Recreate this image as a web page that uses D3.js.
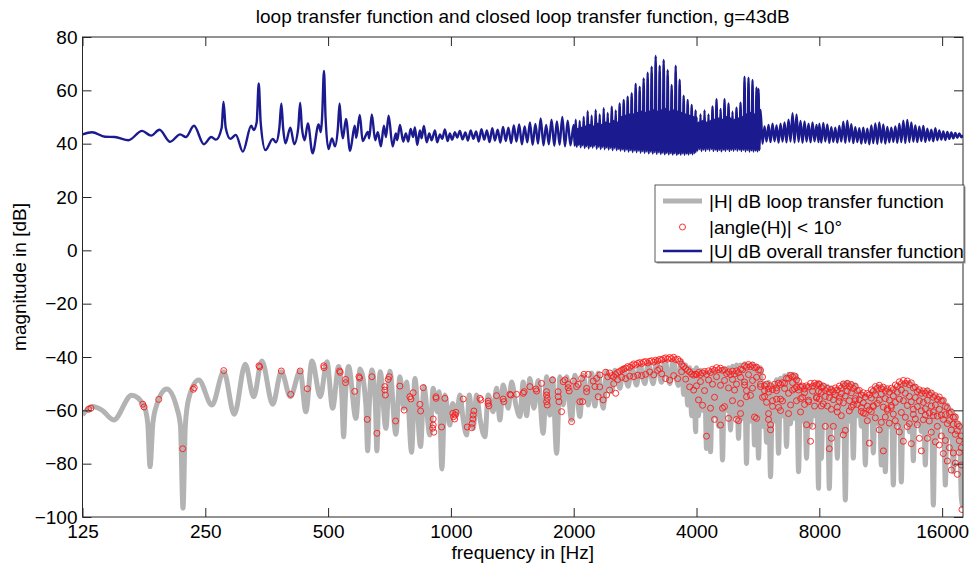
<!DOCTYPE html>
<html>
<head>
<meta charset="utf-8">
<script src="https://cdn.jsdelivr.net/npm/d3@7"></script>
<style>
  body { margin: 0; background: #fff; }
  text { font-family: "Liberation Sans", Arial, Helvetica, sans-serif; }
</style>
</head>
<body>
<div id="chart"></div>
<script>

// tick positions
var xTicks = [125, 250, 500, 1000, 2000, 4000, 8000, 16000];
var yTicks = [-100, -80, -60, -40, -20, 0, 20, 40, 60, 80];

// |U| dB, overall (closed loop) transfer function  [Hz, dB]
var closedLoopLow = [
  [125,43.5],[131.9,44.3],[142,42.6],[150,42.5],[162,41.3],[175,44.8],[184,43],[193,45.2],[205,40.7],[217,43.5],
  [224,42.5],[234.5,46.7],[248,39.8],[258.6,42.5],[265.5,41.5],[274.2,46],[277,55.7],[280.5,46],[288,41.8],[297,43.3],
  [309,37],[324,46.7],[328.5,45.1],[334.1,48],[338,62.6],[341.7,48],[351,37.6],[366,41.8],[372.5,40.5],[379.8,46],
  [384,55.1],[387.8,46],[393,40.1],[404,46],[413,39.8],[422.5,46],[427,55.4],[431.2,46],[438,41.3],[446,47.6],
  [458,36.4],[474,47.2],[480,44.3],[483.4,50],[488.5,67.3],[492.8,50],[501,38],[511,42],[520,39],[528.5,46],
  [533.5,55.1],[538.6,46],[543.5,42],[553,49.3],[566,37.3],[581,46.7],[586,42.2],[598,50.8],[607.5,41],[626,44.4],
  [630.5,42],[640,51],[652,41.3],[662,44.3],[673.5,39],[685,46.7],[693,42.5],[703.5,50.5],[719.5,39],[733,43.8],
  [738.5,41.3],[750,47],[764,40.8],[775.5,43.8],[786,40.8],[796.5,45.5],[808,42.5],[816,46.1],[827,39.5],[839.5,45],
  [847.5,42],[858.5,46.6],[872,40.5],[885,43.8],[897,41.3],[914,45],[925.5,40.5],[940,43.5],[952,41.8],[966.5,45.3],
  [981.5,41],[994,43.8],[1007,41.5],[1023,44.3],[1036,42.3]
];
var closedLoopComb = [
  [1052,44.8],[1068,41.6],[1085,44.2],[1101,41.2],[1118,45.0],[1135,41.8],[1153,44.6],[1170,40.8],[1188,45.4],[1207,41.5],
  [1225,45.0],[1244,40.6],[1263,45.8],[1282,41.2],[1302,45.2],[1322,40.4],[1342,46.3],[1363,41.0],[1383,46.0],[1405,40.2],
  [1426,46.8],[1448,40.8],[1470,47.2],[1493,39.8],[1516,46.5],[1539,40.5],[1562,48.0],[1586,39.6],[1611,47.4],[1635,40.0],
  [1660,49.5],[1686,39.4],[1712,47.0],[1738,39.8],[1765,49.0],[1792,39.2],[1819,48.3],[1847,39.6],[1875,50.0],[1904,39.0],
  [1933,48.6],[1963,39.4]
];
var closedLoop2k = [
  [2000,47],[2011,39.2],[2023,49],[2034,38.8],[2046,45.5],[2057,39.6],[2069,48.5],[2080,38.6],[2092,46],[2104,39.4],
  [2116,50],[2128,38.4],[2140,46.5],[2152,39.1],[2164,52.2],[2176,38.2],[2189,47],[2201,39.0],[2213,50.5],[2226,38.5],
  [2239,46.5],[2251,39.2],[2264,52.6],[2277,38.1],[2290,47.5],[2303,38.8],[2316,51],[2329,38.0],[2342,47],[2355,38.7],
  [2369,53.3],[2382,37.9],[2395,48],[2409,38.6],[2423,51.5],[2436,37.8],[2450,47.5],[2464,38.4],[2478,53.9],[2492,37.6],
  [2506,48.5],[2520,38.3],[2535,52.5],[2549,37.5],[2563,48],[2577,38.1],[2592,55.1],[2607,37.4],[2622,50],[2637,37.9],
  [2652,56.4],[2667,37.2],[2682,50.5],[2697,37.8],[2712,57.6],[2727,37.0],[2743,51],[2758,37.6],[2774,58.9],[2790,36.9],
  [2806,51],[2821,37.5],[2837,62.5],[2853,36.8],[2870,51.5],[2886,37.4],[2902,61.4],[2918,36.6],[2935,52],[2951,37.2],
  [2968,64.5],[2985,36.5],[3002,51.5],[3019,37.1],[3036,66.6],[3053,36.4],[3071,52],[3088,37.0],[3105,68.9],[3123,36.3],
  [3141,52.5],[3158,36.9],[3176,72.9],[3194,36.2],[3212,52],[3230,36.8],[3249,69.2],[3267,36.1],[3286,52.5],[3304,36.7],
  [3323,71.4],[3342,36.0],[3361,53],[3380,36.6],[3399,67.6],[3418,36.0],[3437,52],[3456,36.5],[3476,62],[3496,35.9],
  [3516,52.5],[3536,36.4],[3556,69.2],[3576,35.8],[3596,52],[3616,36.3],[3637,64],[3657,35.9],[3678,51.5],[3699,36.4],
  [3720,58],[3741,35.8],[3762,51],[3783,36.3],[3805,56.4],[3826,35.9],[3848,50.5],[3870,36.4],[3892,54.5],[3914,36.0],
  [3936,50],[3958,36.5],[3981,52.5],[3990,37.0]
];
var closedLoop4k = [
  [4000,50],[4023,37.4],[4045,48],[4068,37.9],[4091,51],[4114,37.2],[4138,48.5],[4161,37.8],[4185,52.5],[4208,37.3],
  [4232,48],[4256,37.9],[4280,51],[4304,37.4],[4329,48.5],[4353,38.0],[4378,54],[4403,37.3],[4428,49],[4453,37.8],
  [4478,56.7],[4503,37.2],[4529,49.5],[4554,37.7],[4580,53],[4606,37.1],[4632,49],[4658,37.8],[4685,56.7],[4711,37.3],
  [4738,50],[4765,37.9],[4792,55.1],[4819,37.2],[4846,49.5],[4873,37.7],[4901,52],[4929,37.3],[4957,49],[4985,37.9],
  [5013,53.5],[5041,37.4],[5070,49.5],[5099,37.8],[5128,55.4],[5157,37.2],[5186,50],[5215,37.7],[5245,65.1],[5274,37.1],
  [5304,51],[5334,37.6],[5364,64.7],[5394,37.0],[5425,51.5],[5456,37.5],[5487,63.9],[5518,37.0],[5549,51],[5580,37.4],
  [5612,61.1],[5644,37.1],[5676,60.5],[5708,37.6],[5741,52.6],[5806,40.0],[5872,46.5],[5939,40.8],[6006,47],[6074,40.6],
  [6143,47.5],[6213,40.9],[6283,46.8],[6355,40.4],[6427,47.5],[6500,40.8],[6574,48],[6648,40.5],[6724,49],[6800,40.8],
  [6877,51.4],[6955,40.4],[7034,51],[7114,40.7],[7195,48.5],[7276,40.3],[7359,48.3],[7443,40.8],[7527,47.5],[7613,40.5],
  [7699,48],[7787,40.9],[7875,47],[7965,40.6]
];
var closedLoop8k = [
  [8000,47.5],[8091,40.4],[8182,47.8],[8275,40.8],[8369,47.2],[8464,40.3],[8560,46.2],[8657,40.7],[8756,46],[8855,40.4],
  [8956,46.6],[9057,40.8],[9160,48.2],[9264,40.3],[9370,48.6],[9476,40.7],[9584,47.3],[9692,40.2],[9802,46.2],[9914,40.6],
  [10026,45.8],[10140,40.0],[10255,46],[10372,40.3],[10489,45.6],[10608,39.8],[10729,46.8],[10851,40.2],[10974,47.6],[11098,39.9],
  [11224,48],[11352,40.4],[11481,47.2],[11611,40.0],[11743,46.3],[11876,40.5],[12011,46],[12147,40.7],[12285,46.5],[12425,40.3],
  [12566,47.5],[12709,40.6],[12853,48.6],[12999,40.2],[13147,48.9],[13296,40.6],[13447,48],[13600,40.8],[13754,46.8],[13910,40.6],
  [14068,46.4],[14228,41.0],[14389,46.6],[14553,40.7],[14718,45.6],[14885,41.2],[15054,45.2],[15225,40.9],[15398,45.8],[15573,41.3],
  [15749,45],[15928,41.5],[16109,44.6],[16292,41.4],[16477,44.4],[16664,41.8],[16853,44.2],[17045,42],[17238,44],[17434,42.2],
  [17632,43.8],[17832,42.4],[18000,43.2]
];

// |H| dB, loop transfer function  [Hz, dB]
var loopGainLow = [
  [125,-61.7],[132,-58.6],[139.5,-59.9],[149,-63.6],[165,-54.3],[176.5,-58],[180.7,-65],[183,-81.1],[185.9,-65],[190,-58],
  [201,-52],[213,-59.2],[217.3,-66],[220.4,-96.7],[223.3,-66],[227.7,-55.5],[240.8,-48.6],[259.6,-58],[277.4,-45.5],[294.4,-61.5],
  [313.3,-42.7],[328.5,-54.9],[344,-41.5],[365.7,-57.7],[384,-45.5],[404,-54.9],[427,-45.3],[441,-60.5],[456.5,-41.5],[478.4,-54.9],
  [496.8,-41.8],[512.9,-59.2],[530.5,-43.6],[540.5,-55],[545.7,-69.9],[551.3,-55],[561.3,-43.6],[585,-63],[599,-44.5],[618.9,-58],
  [625,-75.2],[630.8,-58],[640,-44.9],[653,-58],[658.5,-75.2],[664,-58],[671,-45.5]
];
var loopGainMid = [
  [692.8,-66.75],[708.6,-45.3],[733,-69],[749.8,-47.4],[766.9,-59.2],[778.6,-49.4],[801,-75.75],[816,-48.1],[842.7,-73.6],[858.6,-51.1],
  [888,-69.25],[904.8,-51.75],[925.5,-60.5],[935.9,-53],[950.3,-82],[966.5,-54.25],[994.2,-65.5],[1009.6,-57.4],[1032.7,-61.75],[1052,-54.25],
  [1072,-63.6],[1092.6,-69.25],[1108.8,-54.25],[1134,-66.75],[1156,-54.25],[1177.8,-63],[1211.5,-69.9],[1234,-54.25],[1269.6,-60.5],[1294,-51.75],
  [1318.5,-63.6],[1343,-50.5],[1381.7,-59.2],[1408.5,-49.4],[1443,-58],[1476,-62.3],[1503.8,-49.4],[1533,-62],[1561.7,-48.1],[1597,-59.2],
  [1636.5,-48.8],[1683,-68.6],[1716,-47.4],[1748,-61.75],[1775,-48.1],[1816,-76.1],[1850,-47.4],[1884.6,-58],[1921,-47.4],[1976,-63.6],
  [2013.6,-46.8],[2071,-62.3],[2110,-46.8],[2170.7,-58],[2212.6,-46],[2254,-58.4],[2296.6,-46],[2362,-59.2],[2408,-45.4],[2477,-53],
  [2523.6,-45],[2595.8,-51.75],[2644,-44.1],[2720,-51],[2772.8,-43.5],[2852,-50.5],[2906,-43],[2989,-50],[3045,-42.2],[3132,-50],
  [3193,-41.5],[3284,-49.5],[3346,-41.2],[3442,-50],[3507,-40.9],[3607,-50.7],[3677,-41.5],[3720,-54],[3762,-43],[3805,-58],
  [3848,-44],[3892,-62],[3936,-45],[3981,-68]
];
var loopGainHigh = [
  [4000,-44],[4045,-62],[4091,-45],[4138,-60],[4185,-45.5],[4232,-74.3],[4280,-46],[4329,-75.5],[4378,-45],[4428,-62],
  [4478,-45.5],[4529,-66],[4580,-45],[4632,-78.6],[4685,-44.5],[4738,-60],[4792,-44],[4846,-67.4],[4901,-43.5],[4957,-62],
  [5013,-43],[5070,-70.5],[5128,-43],[5186,-63],[5245,-42.5],[5304,-79.9],[5364,-43],[5425,-64],[5487,-42.8],[5549,-73],
  [5612,-43.5],[5676,-77.9],[5741,-44],[5806,-66],[5872,-50],[5939,-72],[6006,-49.5],[6074,-84.9],[6143,-51],[6213,-64],
  [6283,-48.5],[6355,-76.1],[6427,-48],[6500,-62],[6574,-47],[6648,-73.6],[6724,-46.5],[6800,-65],[6877,-46.5],[6955,-63],
  [7034,-47],[7114,-83],[7195,-50.5],[7276,-64],[7359,-51],[7443,-78],[7527,-51],[7613,-66],[7699,-50.5],[7787,-62],
  [7875,-50],[7965,-89.25],
  [8000,-50],[8091,-78],[8182,-50.5],[8275,-64],[8369,-51],[8464,-89.3],[8560,-51.5],[8657,-66],[8756,-52],[8855,-78],
  [8956,-52],[9057,-68],[9160,-50],[9264,-93.6],[9370,-49.5],[9476,-64],[9584,-50],[9692,-77.9],[9802,-50.5],[9914,-62],
  [10026,-53],[10140,-66],[10255,-54],[10372,-80.5],[10489,-54.5],[10608,-64],[10729,-53],[10851,-76],[10974,-51.5],[11098,-65],
  [11224,-51],[11352,-80.5],[11481,-51.5],[11611,-83],[11743,-52],[11876,-66],[12011,-52.5],[12147,-88],[12285,-51.5],[12425,-65],
  [12566,-50.5],[12709,-86.9],[12853,-50],[12999,-64],[13147,-49.5],[13296,-68],[13447,-50],[13600,-78.9],[13754,-51],[13910,-65],
  [14068,-52.5],[14228,-68],[14389,-53],[14553,-80.5],[14718,-52.5],[14885,-66],[15054,-53.5],[15225,-95.5],[15398,-54.5],[15573,-70],
  [15749,-55.5],[15928,-66],[16109,-56],[16292,-88],[16477,-58],[16664,-70],[16853,-60],[17045,-83],[17238,-62],[17434,-74],
  [17632,-65],[17832,-93],[18000,-96.5]
];

// frequencies where |angle(H)| < 10 deg  [Hz, |H| dB]
var phaseHitsLow = [
  [129.4,-59.6],[131.1,-59.2],[175.6,-57.7],[176.9,-58.75],[192.2,-55.9],[220,-74.4],[233.6,-52.1],[234.9,-51.5],[277.4,-45.1],[338.5,-43.3],
  [339.8,-43.75],[384,-45.25],[404.8,-54],[427,-45.25],[444.8,-51.9],[487.9,-43.3],[488.5,-44],[533.5,-45.25],[535.4,-45.75],[552,-48.4],
  [552,-49.6],[581,-52.9],[595,-47.4],[597.4,-47.9],[623.5,-63.4],[640,-47.4],[658.5,-68.6],[688.9,-51.1],[688.9,-52.4],[691,-54.25],
  [701.8,-48.4],[705.9,-47.4],[731.8,-64],[749.8,-50.9],[768,-59.9],[793.3,-54.9],[797.8,-55.75],[808.2,-53.4],[839.4,-57.75],[842.7,-60.25],
  [855,-51.5],[902,-66.7],[904.8,-63.25],[904.8,-65.5],[908,-68.2],[918.7,-54.9],[920,-55.5],[948.7,-66.25],[966.5,-55.5]
];
var phaseHitsMid = [
  [1011,-61.1],[1015.4,-62.4],[1021,-63.25],[1024.6,-61.75],[1028.6,-60.75],[1072,-55.75],[1096.4,-66.25],[1123.9,-66.5],[1127.7,-64.9],[1132,-63.25],
  [1134,-61.75],[1138.5,-60.25],[1177.8,-55.5],[1184.4,-56.1],[1234,-56.5],[1234,-57.4],[1239,-58.3],[1294,-54.5],[1343,-55.75],[1348,-56.75],
  [1395,-54],[1403,-54.25],[1448.7,-54],[1503.8,-53.6],[1512,-53],[1561.7,-51.1],[1615.5,-52],[1621.6,-52.75],[1668,-49.9],[1716,-53],
  [1716,-54.25],[1722,-55.5],[1716,-56.75],[1722,-58],[1775,-48.6],[1832,-53],[1832,-54.9],[1840,-56.75],[1868,-60.5],[1884.6,-49.25],
  [1903,-48.6],[1938.6,-50.25],[1938.6,-51.5],[1949.5,-52.75],[1976,-64.25],[1997,-49],[2033,-51.1],[2051,-50.25],[2071,-56.75],[2091,-48],
  [2103,-56.75],[2118.6,-46.5],[2151,-51.75],[2151,-53],[2170.7,-46.5],[2232.6,-49],[2254,-51.1],[2276,-48],[2296.6,-54.9],[2316,-51.2],
  [2318.7,-46.75],[2362,-56.1],[2408,-54.25],[2535,-53.6],[3249,-44.4],
  [2395,-45.7],[2423,-47.4],[2450,-46],[2478,-47],[2506,-47.4],[2535,-46.5],[2563,-45.8],[2592,-45.4],[2622,-44.9],[2652,-44.5],
  [2682,-44.2],[2712,-43.6],[2743,-43.9],[2774,-43.2],[2806,-42.6],[2837,-43],[2870,-42.4],[2902,-42.1],[2935,-42.5],[2968,-41.9],
  [3002,-41.7],[3036,-42.2],[3071,-41.6],[3105,-41.4],[3141,-41.9],[3176,-41.2],[3212,-41.5],[3249,-40.9],[3286,-41.1],[3323,-40.6],
  [3361,-40.3],[3399,-40.8],[3437,-40.2],[3476,-40.6],[3516,-40.1],[3556,-41],[3596,-40.8],[3637,-41.6],[3678,-42.8],[3720,-43.6],
  [3762,-44.4],[3805,-45],[3848,-45.6],[3892,-46.4],[3936,-46.8],[3981,-46.5],
  [2450,-52.4],[2506,-50],[2563,-48.5],[2622,-47.6],[2682,-48.1],[2743,-47.2],[2806,-47.4],[2870,-46.8],[2935,-47],[3002,-46.5],
  [3071,-45.6],[3141,-46.7],[3212,-45],[3286,-46.3],[3361,-48.1],[3437,-48.7],[3516,-47],[3596,-48.1],[3678,-45.5],[3762,-48.3],
  [3848,-51.2],[3936,-52.4]
];
var phaseHitsHigh = [
  [4000,-46.6],[4045,-45.8],[4091,-46.6],[4138,-46],[4185,-45.4],[4232,-46.5],[4280,-45.2],[4329,-45.8],[4378,-44.6],[4428,-45],
  [4478,-44],[4529,-44.8],[4580,-44.2],[4632,-45],[4685,-44.8],[4738,-46.2],[4792,-45.6],[4846,-46.6],[4901,-45.3],[4957,-46.4],
  [5013,-45.2],[5070,-45.9],[5128,-44.6],[5186,-44.8],[5245,-43.3],[5304,-43.8],[5364,-42.8],[5425,-43.6],[5487,-43],[5549,-44],
  [5612,-43.8],[5676,-44.9],[5741,-45],[5806,-47.5],[5872,-50.8],[5939,-50.2],[6006,-51.9],[6074,-50.8],[6143,-52.2],[6213,-50.2],
  [6283,-51.6],[6355,-49.8],[6427,-50.3],[6500,-49.6],[6574,-49.9],[6648,-48],[6724,-48],[6800,-46.9],[6877,-47.4],[6955,-47.1],
  [7034,-48.6],[7114,-49.1],[7195,-51.3],[7276,-50.9],[7359,-52],[7443,-50.8],[7527,-51.2],[7613,-49.9],[7699,-51],[7787,-49.8],
  [7875,-50.4],[7965,-50],
  [4000,-50.8],[4091,-49.2],[4185,-52.6],[4280,-48.6],[4378,-50.2],[4478,-47.4],[4580,-50.6],[4685,-48.8],[4792,-51.6],[4901,-48.4],
  [5013,-50.2],[5128,-47.6],[5245,-49.4],[5364,-46.6],[5487,-48.8],[5612,-47.6],[5741,-50.2],[5872,-54.8],[6006,-53.2],[6143,-56.4],
  [6283,-52.6],[6427,-55.8],[6574,-51.8],[6724,-53.6],[6877,-49.6],[7034,-51.4],[7195,-55.6],[7359,-53.4],[7527,-56.2],[7699,-52.8],
  [7875,-55.4],
  [4045,-56.1],[4138,-58.1],[4232,-69.7],[4329,-59.2],[4428,-63.4],[4428,-55.1],[4580,-65.5],[4632,-59.2],[4685,-58.6],[4792,-63],
  [4901,-56.4],[4957,-52.4],[5013,-63.4],[5070,-63.9],[5128,-61.2],[5128,-57.4],[5245,-50.5],[5304,-52.6],[5304,-54.9],[5425,-54.4],
  [5487,-51.7],[5549,-62.5],[5612,-63],[5741,-51.1],[5806,-55.1],[5872,-52.6],[5939,-57],[6006,-61.2],[6006,-63.4],[6074,-65.4],
  [6074,-67.3],[6143,-58.5],[6283,-55.8],[6355,-58.9],[6427,-60.1],[6500,-56.5],[6724,-61.2],[6800,-58],[6877,-52.4],[6955,-51.9],
  [7034,-56.4],[7114,-52.4],[7195,-60.6],[7276,-55.1],[7359,-57.8],[7443,-65.4],[7527,-56.8],[7613,-71.6],[7699,-66],[7787,-58.4],
  [7875,-55],[7965,-52.8],
  [8000,-50.2],[8091,-51.4],[8182,-50.9],[8275,-52.6],[8369,-51.8],[8464,-53.2],[8560,-52.2],[8657,-53],[8756,-51.6],[8855,-52.4],
  [8956,-50.9],[9057,-51.6],[9160,-50.1],[9264,-50.8],[9370,-49.9],[9476,-51.1],[9584,-50.3],[9692,-51.8],[9802,-51],[9914,-52.6],
  [10026,-52.5],[10140,-54.2],[10255,-53.4],[10372,-55],[10489,-53.7],[10608,-54.2],[10729,-52.3],[10851,-52.8],[10974,-51.1],[11098,-51.8],
  [11224,-50.6],[11352,-51.9],[11481,-51.3],[11611,-52.8],[11743,-51.9],[11876,-53.2],[12011,-51.7],[12147,-52.2],[12285,-50.5],[12425,-51],
  [12566,-49.3],[12709,-50],[12853,-48.8],[12999,-49.9],[13147,-49],[13296,-50.4],[13447,-49.7],[13600,-51.6],[13754,-51.3],[13910,-53],
  [14068,-52.3],[14228,-53.6],[14389,-52.7],[14553,-53.6],[14718,-52.7],[14885,-54.2],[15054,-53.5],[15225,-55.1],[15398,-54.5],[15573,-55.8],
  [15749,-55],[15928,-56.4],[16109,-56.3],[16292,-58.6],[16477,-59],[16664,-61.1],[16853,-60.7],[17045,-62.6],[17238,-62.5],[17434,-65.1],
  [17632,-66],[17832,-69.6],
  [8000,-55.8],[8091,-53.2],[8182,-57.6],[8275,-54.8],[8369,-58.4],[8464,-55.2],[8560,-59.6],[8657,-56],[8756,-54.2],[8855,-58.8],
  [8956,-56.6],[9057,-53.8],[9160,-57.2],[9264,-54.6],[9370,-52.8],[9476,-56.4],[9584,-53.4],[9692,-58],[9802,-55.6],[9914,-57.8],
  [10026,-56],[10140,-60.4],[10255,-57.2],[10372,-61.2],[10489,-58.4],[10608,-59.8],[10729,-55.4],[10851,-58.6],[10974,-54.2],[11098,-57.4],
  [11224,-56.2],[11352,-53.8],[11481,-58.8],[11611,-55.6],[11743,-59.4],[11876,-56.2],[12011,-58.2],[12147,-54.6],[12285,-57],[12425,-53.2],
  [12566,-55.8],[12709,-52.4],[12853,-56.4],[12999,-53.6],[13147,-58.2],[13296,-54.8],[13447,-56.8],[13600,-59.6],[13754,-55.2],[13910,-58.6],
  [14068,-56.4],[14228,-60.2],[14389,-57],[14553,-59.4],[14718,-56.2],[14885,-61],[15054,-58.4],[15225,-60.6],[15398,-58],[15573,-62.2],
  [15749,-59.6],[15928,-61.8],[16109,-63.4],[16292,-61.6],[16477,-65],[16664,-63.8],[16853,-67.4],[17045,-65.2],[17238,-69],[17434,-67.6],
  [17632,-71.4],[17832,-74],
  [8091,-58.4],[8275,-66],[8464,-74.4],[8560,-70.5],[8657,-66],[8855,-60.6],[8956,-55.1],[9057,-62],[9160,-69.2],[9264,-67.5],
  [9476,-60.2],[9584,-58.8],[9802,-56.4],[10140,-58.9],[10255,-61],[10489,-63.9],[10608,-72.3],[10729,-60.5],[10851,-58.2],[10974,-62.8],
  [11224,-67.3],[11352,-64.5],[11481,-75.2],[11611,-62.5],[11743,-60],[11876,-64.8],[12011,-58.9],[12147,-61.4],[12285,-63.9],[12425,-66],
  [12566,-68.1],[12709,-60.8],[12853,-71.6],[12999,-62.6],[13147,-66.1],[13296,-65],[13447,-72.5],[13600,-61.5],[13754,-63.2],[13910,-65.4],
  [14068,-70.5],[14228,-75.2],[14389,-63.5],[14553,-61.8],[14718,-70.5],[14885,-64],[15054,-68.2],[15225,-62],[15398,-71.8],[15573,-66],
  [15749,-73],[15928,-69.6],[16109,-76.2],[16292,-71.3],[16477,-79],[16664,-74],[16853,-82.4],[17045,-76],[17238,-79.8],[17434,-84],
  [17632,-75.8],[17832,-80.5],[17900,-97.2]
];

var closedLoop = closedLoopLow.concat(closedLoopComb, closedLoop2k, closedLoop4k, closedLoop8k);
var loopGain = loopGainLow.concat(loopGainMid, loopGainHigh);
var phaseHits = phaseHitsLow.concat(phaseHitsMid, phaseHitsHigh);

var margin = {top: 37, right: 11, bottom: 49, left: 82.5},
    width = 963 - margin.left,
    height = 480;

var FONT = 19;

var svg = d3.select("#chart").append("svg")
    .attr("width", 974)
    .attr("height", 566);

var g = svg.append("g")
    .attr("transform", "translate(" + margin.left + "," + margin.top + ")");

var x = d3.scaleLog().domain([125, 18000]).range([0, width]);
var y = d3.scaleLinear().domain([-100, 80]).range([height, 0]);

g.append("clipPath").attr("id", "plot-area")
  .append("rect").attr("width", width).attr("height", height);

var line = d3.line()
    .x(function(d) { return x(d[0]); })
    .y(function(d) { return y(d[1]); })
    .curve(d3.curveMonotoneX);

var plot = g.append("g").attr("clip-path", "url(#plot-area)");

// loop transfer function, thick grey
plot.append("path")
    .datum(loopGain)
    .attr("fill", "none")
    .attr("stroke", "#b3b3b3")
    .attr("stroke-width", 5)
    .attr("stroke-linejoin", "round")
    .attr("d", line);

// points with small phase
plot.selectAll("circle.hit")
    .data(phaseHits)
    .enter().append("circle")
    .attr("class", "hit")
    .attr("cx", function(d) { return x(d[0]); })
    .attr("cy", function(d) { return y(d[1]); })
    .attr("r", 3)
    .attr("fill", "none")
    .attr("stroke", "#ff1a1a")
    .attr("stroke-width", 0.9);

// closed loop, blue
plot.append("path")
    .datum(closedLoop)
    .attr("fill", "none")
    .attr("stroke", "#1b1b8f")
    .attr("stroke-width", 2.4)
    .attr("stroke-linejoin", "round")
    .attr("d", line);

// axes, ticks inside the box
function styleAxis(sel) {
  sel.select(".domain").remove();
  sel.attr("font-size", FONT)
     .attr("font-family", "'Liberation Sans', Arial, Helvetica, sans-serif")
     .attr("color", "#262626");
  sel.selectAll("text").attr("fill", "#000");
}

g.append("g")
    .attr("transform", "translate(0," + height + ")")
    .call(d3.axisBottom(x).tickValues(xTicks).tickFormat(d3.format("d"))
        .tickSizeInner(-9).tickSizeOuter(0).tickPadding(7.5))
    .call(styleAxis);

g.append("g")
    .call(d3.axisTop(x).tickValues(xTicks).tickFormat("")
        .tickSizeInner(-9).tickSizeOuter(0))
    .call(styleAxis);

g.append("g")
    .call(d3.axisLeft(y).tickValues(yTicks)
        .tickSizeInner(-9).tickSizeOuter(0).tickPadding(5))
    .call(styleAxis);

g.append("g")
    .attr("transform", "translate(" + width + ",0)")
    .call(d3.axisRight(y).tickValues(yTicks).tickFormat("")
        .tickSizeInner(-9).tickSizeOuter(0))
    .call(styleAxis);

g.append("rect")
    .attr("width", width)
    .attr("height", height)
    .attr("fill", "none")
    .attr("stroke", "#262626")
    .attr("stroke-width", 1);

// title and axis labels
svg.append("text")
    .attr("x", margin.left + width / 2)
    .attr("y", 22.5)
    .attr("text-anchor", "middle")
    .attr("font-size", FONT)
    .text("loop transfer function and closed loop transfer function, g=43dB");

svg.append("text")
    .attr("x", margin.left + width / 2)
    .attr("y", 559)
    .attr("text-anchor", "middle")
    .attr("font-size", FONT)
    .text("frequency in [Hz]");

svg.append("text")
    .attr("transform", "translate(26," + (margin.top + height / 2) + ") rotate(-90)")
    .attr("text-anchor", "middle")
    .attr("font-size", FONT)
    .text("magnitude in [dB]");

// legend
var legend = svg.append("g").attr("transform", "translate(655,185)");

legend.append("rect")
    .attr("x", 1.5).attr("y", 1.5)
    .attr("width", 309).attr("height", 77)
    .attr("fill", "#999");
legend.append("rect")
    .attr("width", 309).attr("height", 77)
    .attr("fill", "#fff")
    .attr("stroke", "#333")
    .attr("stroke-width", 0.8);

var items = [
  {label: "|H| dB loop transfer function", kind: "grey"},
  {label: "|angle(H)| < 10°", kind: "circle"},
  {label: "|U| dB overall transfer function", kind: "blue"}
];
var rowY = [16, 42, 66];

items.forEach(function(it, i) {
  var ry = rowY[i];
  if (it.kind === "circle") {
    legend.append("circle")
        .attr("cx", 27.5).attr("cy", ry).attr("r", 3)
        .attr("fill", "none").attr("stroke", "#ff1a1a").attr("stroke-width", 0.9);
  } else {
    legend.append("line")
        .attr("x1", 8).attr("x2", 47).attr("y1", ry).attr("y2", ry)
        .attr("stroke", it.kind === "grey" ? "#b3b3b3" : "#1b1b8f")
        .attr("stroke-width", it.kind === "grey" ? 5 : 2.4);
  }
  legend.append("text")
      .attr("x", 54)
      .attr("y", ry + 6.8)
      .attr("font-size", FONT)
      .text(it.label);
});

</script>
</body>
</html>
